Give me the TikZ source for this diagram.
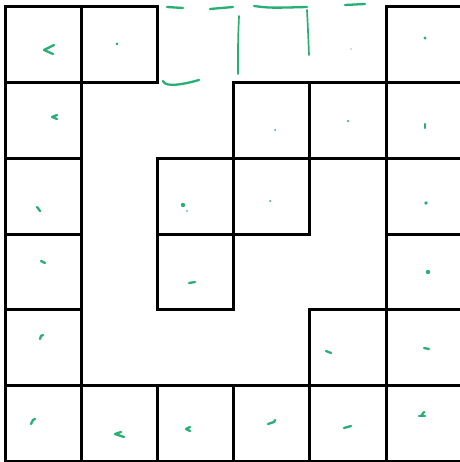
\documentclass[tikz,border=0pt]{standalone}
\definecolor{ink}{RGB}{40,175,115}
\definecolor{faint}{RGB}{170,215,195}
\begin{document}
\begin{tikzpicture}[x=1pt,y=-1pt,
  cell/.style={draw=black,line width=3pt,minimum width=76.2pt,minimum height=75.7pt,inner sep=0pt,outer sep=0pt},
  pen/.style={draw=ink,line width=2.3pt,line cap=round,line join=round},
  thinpen/.style={draw=ink,line width=1.7pt,line cap=round,line join=round},
  dot/.style={fill=ink}]
\useasboundingbox (0,0) rectangle (459,462);
% grid: x lines 5 + 76.2 k ; y lines 7 + 75.7 k
\foreach \r/\c in {0/0,0/1,0/5,
                   1/0,1/3,1/4,1/5,
                   2/0,2/2,2/3,2/5,
                   3/0,3/2,3/5,
                   4/0,4/4,4/5,
                   5/0,5/1,5/2,5/3,5/4,5/5}{
  \node[cell] (c\r\c) at ({5+76.2*\c+38.1},{7+75.7*\r+37.85}) {};
}
% top hand-drawn strokes
\draw[pen] (167,7) -- (183,8);
\draw[pen] (210,9) -- (233,7);
\draw[thinpen] (239,16) .. controls (238,40) .. (238,74);
\draw[pen] (254,6) .. controls (270,8) .. (307,7);
\draw[thinpen] (307,10) .. controls (308,30) .. (309,55);
\draw[pen] (345,5) -- (365,4);
\draw[pen] (163,81) .. controls (165,88) and (185,84) .. (199,80);
% marks in cells
\draw[pen] (54,45) -- (44,50) -- (53,54);
\fill[dot] (117,44) circle (1.5);
\fill[faint] (351,49) circle (1);
\fill[dot] (425,38) circle (1.6);
\draw[pen] (57,115) -- (52,117) -- (57,119);
\fill[dot] (275,130) circle (1);
\fill[dot] (348,121) circle (1.1);
\draw[pen] (425,124) -- (425,128);
\draw[pen] (37,207) -- (40,211);
\fill[dot] (183,205) circle (2.2);
\fill[dot] (187,211) circle (0.9);
\fill[dot] (270,201) circle (1);
\fill[dot] (426,203) circle (1.9);
\draw[pen] (41,261) -- (45,263);
\draw[pen] (189,283) -- (195,282);
\fill[dot] (428,272) circle (2.2);
\draw[pen] (40,339) -- (41,336) -- (43,335);
\draw[pen] (326,351) -- (331,353);
\draw[pen] (424,348) -- (429,349);
\draw[pen] (31,424) -- (33,420) -- (35,419);
\draw[pen] (121,432) -- (115,434) -- (124,437);
\draw[pen] (190,427) -- (186,429) -- (190,431);
\draw[pen] (268,424) -- (274,422) -- (275,420);
\draw[pen] (344,428) -- (351,426);
\draw[pen] (419,416) -- (425,416);
\draw[pen] (421,416) -- (424,412);
\end{tikzpicture}
\end{document}
